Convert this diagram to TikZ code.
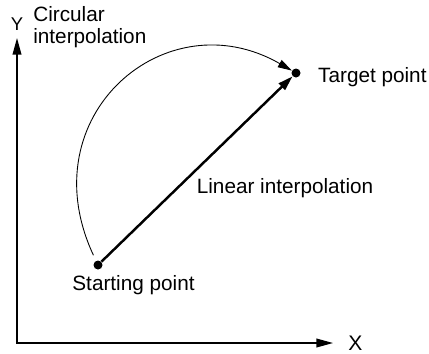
\documentclass[tikz,border=0pt]{standalone}
\usepackage{fontspec}
\setmainfont{Liberation Sans}
\usetikzlibrary{arrows.meta,positioning}

\begin{document}
\begin{tikzpicture}[
  >={Triangle[length=8.5pt,width=5pt]},
  font=\fontsize{11.8}{12.2}\selectfont,
  dot/.style={circle, fill=black, inner sep=0pt, minimum size=0.18cm},
  txt/.style={inner sep=0pt, align=left},
  axis/.style={<->, line width=0.8pt, >={Triangle[length=9.5pt,width=5pt]}},
  linpath/.style={->, line width=1.4pt},
  circpath/.style={->, line width=0.5pt, shorten <=0.12cm, >={Triangle[length=8pt,width=4.6pt]}}
]
  \useasboundingbox (0,0) rectangle (8.58,7.06);

  \coordinate (ytip) at (0.34,6.30);
  \coordinate (xtip) at (6.66,0.20);
  \node[dot] (start) at (1.96,1.76) {};
  \node[dot] (target) at (5.92,5.60) {};

  \node[txt, font=\fontsize{10.5}{12}\selectfont, above=0.15cm of ytip] (ylbl) {Y};
  \node[txt, font=\fontsize{12}{14}\selectfont, right=0.3cm of xtip] (xlbl) {X};
  \node[txt, anchor=north west] (circlbl) at (0.66,6.93) {Circular\\interpolation};
  \node[txt, below=1mm of start, xshift=7.1mm] (startlbl) {Starting point};
  \node[txt, right=0.34cm of target, yshift=-0.8mm] (targetlbl) {Target point};
  \node[txt, anchor=base west] (linlbl) at (3.93,3.20) {Linear interpolation};

  \draw[axis] (ytip) |- (xtip);
  \draw[linpath] (start) -- (target);
  \draw[circpath] (start) .. controls +(115:3.3) and +(150:3) .. (target);
\end{tikzpicture}
\end{document}
